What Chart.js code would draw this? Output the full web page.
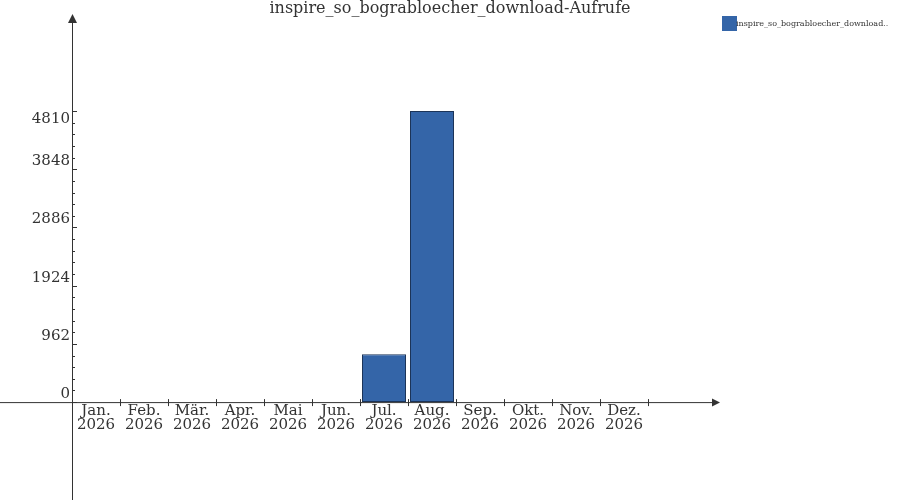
<!DOCTYPE html>
<html>
<head>
<meta charset="utf-8">
<script src="https://cdn.jsdelivr.net/npm/chart.js@4/dist/chart.umd.min.js"></script>
<style>
  html, body { margin: 0; padding: 0; background: #fff; }
  #wrap { width: 900px; height: 500px; }
</style>
</head>
<body>
<div id="wrap"><canvas id="chart"></canvas></div>
<script>
"use strict";

// Data ----------------------------------------------------------------------
const TITLE = "inspire_so_bograbloecher_download-Aufrufe";
const SERIES_LABEL = "inspire_so_bograbloecher_download..";
const MONTHS = ["Jan.", "Feb.", "Mär.", "Apr.", "Mai", "Jun.",
  "Jul.", "Aug.", "Sep.", "Okt.", "Nov.", "Dez."];
const YEAR = "2026";
const CALLS = [0, 0, 0, 0, 0, 0, 790, 4810, 0, 0, 0, 0];
const Y_TICKS = [0, 962, 1924, 2886, 3848, 4810];
const Y_MINOR_PER_STEP = 5;

const FONT = "'DejaVu Serif', 'Liberation Serif', serif";
const INK = "#333";
const BAR = "#3465a8";

// Axes, arrows, ticks, title and legend drawn on top ------------------------
const decor = {
  id: "decor",
  afterDraw(chart) {
    const { ctx, scales: { x, y } } = chart;
    const x0 = x.left;
    const y0 = y.getPixelForValue(0);
    ctx.save();
    ctx.strokeStyle = INK;
    ctx.fillStyle = INK;
    ctx.lineWidth = 1;

    // y axis line with arrow
    ctx.beginPath();
    ctx.moveTo(x0 + 0.5, chart.height);
    ctx.lineTo(x0 + 0.5, 20);
    ctx.stroke();
    ctx.beginPath();
    ctx.moveTo(x0 + 0.5, 14);
    ctx.lineTo(x0 - 4, 23);
    ctx.lineTo(x0 + 5, 23);
    ctx.closePath();
    ctx.fill();

    // x axis line with arrow
    ctx.beginPath();
    ctx.moveTo(0, y0 + 0.5);
    ctx.lineTo(714, y0 + 0.5);
    ctx.stroke();
    ctx.beginPath();
    ctx.moveTo(720, y0 + 0.5);
    ctx.lineTo(712, y0 - 3.5);
    ctx.lineTo(712, y0 + 4.5);
    ctx.closePath();
    ctx.fill();

    // x ticks at category boundaries
    const n = chart.data.labels.length;
    const step = (x.right - x.left) / n;
    for (let i = 1; i <= n; i++) {
      const px = Math.round(x.left + i * step) + 0.5;
      ctx.beginPath();
      ctx.moveTo(px, y0 - 3);
      ctx.lineTo(px, y0 + 4);
      ctx.stroke();
    }

    // y ticks (major + minor) and labels
    const major = Y_TICKS[1] - Y_TICKS[0];
    const minor = major / Y_MINOR_PER_STEP;
    const top = Y_TICKS[Y_TICKS.length - 1];
    for (let v = minor; v < top; v += minor) {
      const py = Math.round(y.getPixelForValue(v)) + 0.5;
      ctx.beginPath();
      ctx.moveTo(x0, py);
      ctx.lineTo(x0 + 3, py);
      ctx.stroke();
    }
    ctx.font = `15px ${FONT}`;
    ctx.textAlign = "right";
    ctx.textBaseline = "middle";
    Y_TICKS.forEach((v, i) => {
      const py = Math.round(y.getPixelForValue(v)) + 0.5;
      ctx.beginPath();
      ctx.moveTo(x0, py);
      ctx.lineTo(x0 + 5, py);
      ctx.stroke();
      const last = i === Y_TICKS.length - 1;
      ctx.fillText(String(v), x0 - 2, py + (last ? 8 : -8));
    });

    // title
    ctx.font = `16px ${FONT}`;
    ctx.textAlign = "center";
    ctx.textBaseline = "top";
    ctx.fillText(TITLE, chart.width / 2, 1);

    // legend
    const ds = chart.data.datasets[0];
    ctx.fillStyle = ds.backgroundColor;
    ctx.fillRect(722, 16, 15, 15);
    ctx.fillStyle = INK;
    ctx.font = `8px ${FONT}`;
    ctx.textAlign = "left";
    ctx.textBaseline = "middle";
    ctx.fillText(ds.label, 736, 23.5);
    ctx.restore();
  },
};

new Chart(document.getElementById("chart"), {
  type: "bar",
  data: {
    labels: MONTHS.map((m) => [m, YEAR]),
    datasets: [{
      label: SERIES_LABEL,
      data: CALLS,
      backgroundColor: BAR,
      borderColor: "#1c3458",
      borderWidth: 1,
      borderSkipped: false,
      inflateAmount: 0,
      barThickness: 44,
    }],
  },
  options: {
    responsive: true,
    maintainAspectRatio: false,
    animation: false,
    layout: { padding: { left: 72, right: 252, top: 111, bottom: 66 } },
    plugins: {
      legend: { display: false },
      title: { display: false },
      tooltip: { enabled: false },
    },
    scales: {
      x: {
        grid: { display: false, drawTicks: false },
        border: { display: false },
        ticks: {
          autoSkip: false,
          maxRotation: 0,
          padding: 2,
          color: INK,
          font: { family: FONT, size: 15, lineHeight: 0.93 },
        },
      },
      y: {
        display: false,
        min: 0,
        max: Y_TICKS[Y_TICKS.length - 1],
      },
    },
  },
  plugins: [decor],
});
</script>
</body>
</html>
